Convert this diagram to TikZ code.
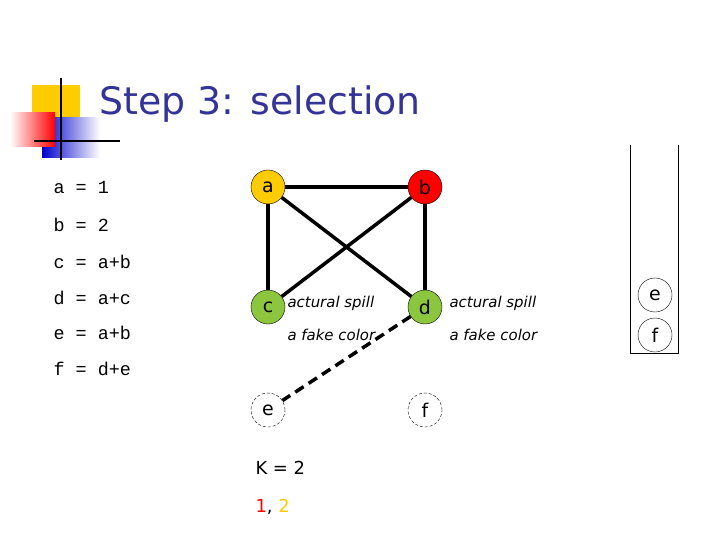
\documentclass[tikz,border=0pt]{standalone}
\usepackage{fontspec}
\setmainfont{DejaVu Sans}
\setmonofont{Liberation Mono}
\newfontfamily\titlefont{DejaVu Sans}
\definecolor{titleblue}{HTML}{333399}
\definecolor{nodeyellow}{HTML}{FFCC00}
\definecolor{nodegreen}{HTML}{8CC63F}
\begin{document}
\begin{tikzpicture}[x=1bp,y=-1bp,
  vnode/.style={draw,circle,minimum size=34bp,inner sep=0pt,font=\fontsize{19}{19}\selectfont},
  code/.style={anchor=west,font=\ttfamily\fontsize{18.5}{18.5}\selectfont},
  note/.style={anchor=west,font=\itshape\fontsize{15}{15}\selectfont},
  edge/.style={line width=3.5bp}]
  \useasboundingbox (0,0) rectangle (720,540);
  % logo
  \fill[nodeyellow] (32,85) rectangle (80,118);
  \shade[left color=blue!80!black,right color=white] (42,118) rectangle (100,158);
  \shade[left color=white,right color=red] (10,113) rectangle (55,147);
  \draw[line width=2.5bp] (61,78) -- (61,160);
  \draw[line width=2.5bp] (34,141) -- (120,141);
  \node[anchor=west,text=titleblue,font=\titlefont\fontsize{38}{38}\selectfont] (title) at (96,104) {Step 3: selection};
  % code
  \node[code] (l1) at (50,188) {a = 1};
  \node[code] (l2) at (50,225) {b = 2};
  \node[code] (l3) at (50,262) {c = a+b};
  \node[code] (l4) at (50,298) {d = a+c};
  \node[code] (l5) at (50,333) {e = a+b};
  \node[code] (l6) at (50,369) {f = d+e};
  % graph
  \node (a) at (268,187) [vnode,fill=nodeyellow] {a};
  \node (b) at (425,187) [vnode,fill=red] {b};
  \node (c) at (268,307) [vnode,fill=nodegreen] {c};
  \node (d) at (425,307) [vnode,fill=nodegreen] {d};
  \node (e) at (268,410) [vnode,densely dashed,thin] {e};
  \node (f) at (425,410) [vnode,densely dashed,thin] {f};
  \draw[edge] (a) -- (b);
  \draw[edge] (a) -- (c);
  \draw[edge] (b) -- (d);
  \draw[edge] (a) -- (d);
  \draw[edge] (b) -- (c);
  \draw[edge,dash pattern=on 10bp off 6bp] (d) -- (e);
  \node[note] (s1) at (284,303) {actural spill};
  \node[note] (s2) at (284,335) {a fake color};
  \node[note] (s3) at (446,303) {actural spill};
  \node[note] (s4) at (446,335) {a fake color};
  % stack
  \draw (630,145) -- (630,353) -- (678,353) -- (678,145);
  \node (se) at (655,295) [vnode,minimum size=34bp] {e};
  \node (sf) at (655,335) [vnode,minimum size=34bp] {f};
  % K
  \node[anchor=west,font=\fontsize{18}{18}\selectfont] (k) at (252,468) {K = 2};
  \node[anchor=west,font=\fontsize{18}{18}\selectfont] (col) at (252,507) {\textcolor{red}{1}, \textcolor{nodeyellow}{2}};
\end{tikzpicture}
\end{document}
